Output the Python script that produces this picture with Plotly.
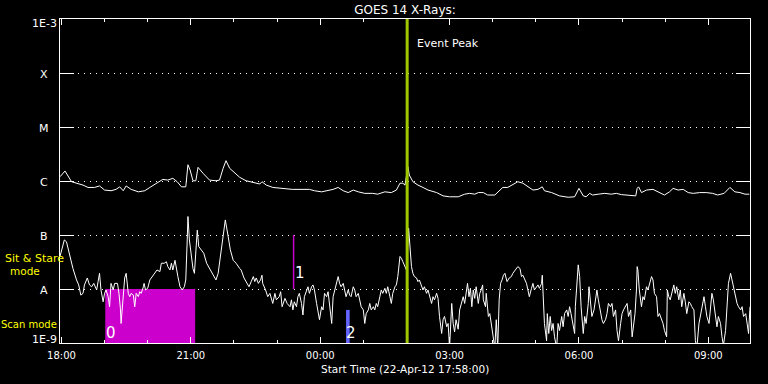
import numpy as np
import pandas as pd
import plotly.graph_objects as go

# ---------------- data ----------------
start_time = "2012-04-22 17:58:00"
end_time = "2012-04-23 09:58:00"

# GOES 14 long channel (1-8 A): minutes after start, flux in units of 1e-6 W/m^2
long_minutes = [0, 7, 16, 25, 32, 39, 48, 55, 62, 71, 78, 83, 88, 92, 99, 109, 118, 125, 134, 143,
                150, 157, 163, 169, 175, 178, 181, 185, 189, 192, 199, 208, 217, 222, 227, 231, 236, 243, 250, 259,
                269, 278, 281, 287, 296, 310, 323, 347, 354, 364, 373, 380, 387, 394, 401, 408, 415, 424, 435, 442,
                452, 461, 468, 473, 477, 480, 484, 486, 491, 498, 505, 512, 524, 533, 542, 554, 563, 570, 577, 582,
                589, 595, 605, 612, 616, 623, 633, 637, 644, 651, 658, 665, 671, 674, 684, 695, 707, 716, 722, 728,
                732, 737, 741, 749, 758, 767, 774, 781, 795, 801, 803, 805, 809, 816, 825, 834, 841, 848, 853, 860,
                867, 874, 881, 890, 899, 908, 915, 924, 932, 939, 946, 953, 959]
long_flux_1e6 = [1.20, 1.53, 0.97, 0.91, 0.84, 0.76, 0.76, 0.81, 0.68, 0.66, 0.70, 0.78, 0.66, 0.81, 0.70, 0.63, 0.66, 0.76, 0.91, 1.07,
                 1.04, 1.12, 0.97, 0.78, 0.78, 2.00, 1.60, 1.01, 1.01, 1.79, 1.39, 1.04, 1.01, 1.04, 1.72, 2.38, 1.72, 1.39, 1.17, 1.01,
                 0.93, 0.88, 0.97, 0.84, 0.76, 0.73, 0.70, 0.70, 0.66, 0.63, 0.66, 0.70, 0.76, 0.66, 0.61, 0.68, 0.63, 0.59, 0.59, 0.57,
                 0.63, 0.61, 0.68, 0.91, 0.91, 0.84, 1.84, 1.29, 0.97, 0.84, 0.76, 0.68, 0.61, 0.53, 0.51, 0.51, 0.57, 0.59, 0.57, 0.61,
                 0.61, 0.55, 0.55, 0.68, 0.76, 0.76, 0.91, 0.97, 0.91, 0.78, 0.68, 0.70, 0.78, 0.66, 0.61, 0.53, 0.50, 0.51, 0.73, 0.53,
                 0.51, 0.59, 0.55, 0.57, 0.59, 0.57, 0.59, 0.56, 0.55, 0.53, 0.73, 0.78, 0.61, 0.68, 0.70, 0.61, 0.55, 0.63, 0.73, 0.68,
                 0.70, 0.61, 0.59, 0.61, 0.61, 0.59, 0.55, 0.59, 0.76, 0.63, 0.61, 0.57, 0.57]

# GOES 14 short channel (0.5-4 A): minutes after start, flux in units of 1e-8 W/m^2
short_minutes = [0, 6, 9, 13, 18, 23, 26, 29, 32, 34, 38, 41, 44, 47, 51, 53, 55, 57, 60, 62,
                 64, 67, 69, 71, 74, 76, 80, 82, 84, 85, 88, 90, 92, 95, 97, 99, 102, 104, 106, 109,
                 111, 113, 116, 117, 119, 122, 125, 128, 132, 135, 139, 141, 145, 148, 150, 153, 155, 157, 160, 162,
                 164, 167, 170, 173, 175, 177, 178, 180, 183, 185, 187, 190, 191, 193, 197, 200, 204, 208, 213, 217,
                 220, 223, 227, 230, 234, 237, 241, 245, 250, 252, 256, 259, 263, 266, 269, 271, 273, 276, 279, 281,
                 282, 286, 289, 292, 294, 296, 299, 301, 305, 307, 309, 313, 316,
                 320, 322, 324, 326, 329, 331, 333, 336, 338, 340, 343, 345, 347, 350, 352, 354, 357, 359, 361, 364,
                 366, 368, 371, 373, 375, 378, 380, 382, 385, 387, 389, 391, 394, 396, 398, 401, 403, 405, 408, 410,
                 412, 415, 417, 419, 422, 424, 426, 429, 431, 433, 436, 438, 440, 442, 445, 447, 449, 452, 454, 456,
                 459, 461, 463, 466, 468, 470, 473, 475, 477, 480,
                 482, 485, 487, 489, 491, 493, 496, 498, 500, 503, 505, 507, 510, 512, 514, 517, 519, 521, 524, 526,
                 528, 531, 533, 535, 538, 540, 542, 545, 547, 549, 551, 554, 556, 558, 561, 563, 565, 567, 569, 571,
                 573, 575, 577, 579, 582, 584, 586, 588, 589, 592, 593, 596, 598, 600, 602, 605, 607, 609, 611, 613,
                 615, 617, 619, 622, 625, 628, 630, 633, 635, 637, 640,
                 642, 644, 647, 649, 651, 653, 656, 658, 660, 663, 665, 667, 670, 671, 672, 674, 677, 678, 680, 682,
                 684, 686, 688, 691, 693, 695, 698, 700, 702, 705, 707, 709, 711, 714, 716, 717, 719, 721, 723, 725,
                 728, 730, 732, 735, 736, 738, 740, 743, 745, 747, 749, 752, 754, 756, 759, 761, 763, 766, 768, 770,
                 773, 775, 777, 780, 782, 784, 787, 789, 791, 794, 796, 798, 800, 802,
                 803, 804, 806, 809, 811, 813, 816, 818, 820, 823, 825, 827, 830, 832, 834, 837, 839, 841, 844, 845,
                 847, 849, 852, 854, 856, 858, 861, 863, 865, 868, 870, 872, 875, 877, 879, 882, 884, 886, 889, 891,
                 893, 896, 898, 900, 903, 905, 907, 909, 912, 914, 916, 919, 921, 923, 926, 928, 930, 933, 935, 937,
                 940, 942, 944, 947, 949, 951, 954, 956, 958, 960]
short_flux_1e8 = [4.0, 8.1, 7.5, 4.3, 2.4, 1.47, 1.19, 0.77, 0.83, 1.19, 1.6, 1.19, 1.10, 1.27, 0.96, 1.37, 1.95, 0.96, 0.58, 0.83,
                  0.96, 0.72, 0.47, 1.27, 0.96, 1.27, 1.27, 0.83, 0.44, 0.23, 0.63, 1.6, 1.95, 0.83, 0.72, 0.83, 0.77, 0.47, 0.83, 0.72,
                  0.89, 0.83, 1.10, 1.27, 0.96, 1.03, 1.47, 1.7, 1.95, 2.25, 2.1, 3.0, 3.0, 3.2, 2.6, 2.25, 3.0, 2.25, 3.4, 2.25,
                  1.7, 1.10, 0.96, 1.10, 1.47, 8.1, 22.0, 8.1, 3.4, 2.4, 1.95, 6.1, 12.3, 6.1, 5.3, 4.6, 3.0, 2.4, 1.8, 1.47,
                  1.95, 4.0, 10.7, 19.0, 9.3, 5.3, 3.4, 3.0, 2.4, 2.25, 1.6, 1.37, 1.10, 1.37, 1.7, 1.37, 1.6, 1.27, 1.47, 1.8,
                  1.27, 0.96, 0.72, 0.83, 0.67, 0.54, 0.83, 0.63, 0.72, 0.89, 0.47, 0.67, 0.54,
                  0.47, 0.63, 0.41, 0.58, 0.47, 0.72, 0.83, 0.54, 0.33, 0.72, 0.96, 1.10, 0.83, 1.10, 1.19, 0.96, 0.54, 0.41, 0.27, 0.47,
                  0.41, 0.83, 0.72, 0.89, 0.47, 0.23, 0.72, 0.96, 1.27, 1.7, 1.27, 1.10, 1.27, 0.96, 0.72, 0.96, 0.77, 0.72, 1.10, 0.96,
                  0.72, 0.83, 0.58, 0.47, 0.41, 0.23, 0.35, 0.41, 0.54, 0.41, 0.47, 0.41, 0.54, 0.47, 0.72, 0.96, 0.83, 1.03, 0.83, 1.10,
                  0.72, 0.54, 0.83, 1.10, 1.19, 1.7, 4.0, 3.7, 3.2, 2.6,
                  2.25, 13.5, 5.3, 2.6, 1.95, 1.7, 1.6, 1.37, 1.47, 1.10, 0.96, 1.10, 0.83, 0.96, 0.72, 0.54, 0.72, 0.63, 0.83, 0.67,
                  0.31, 0.15, 0.27, 0.31, 0.20, 0.23, 0.08, 0.54, 0.23, 0.16, 0.27, 0.18, 0.41, 0.54, 0.72, 0.54, 0.96, 1.27, 0.72, 1.03,
                  0.47, 0.96, 0.67, 1.10, 0.54, 0.83, 0.96, 1.19, 0.63, 0.47, 0.83, 0.31, 0.35, 0.23, 0.17, 0.08, 0.27, 0.08, 0.63, 1.27,
                  1.47, 1.8, 1.95, 1.37, 1.6, 1.7, 1.95, 2.25, 2.4, 2.6, 2.4,
                  1.7, 1.8, 1.47, 1.27, 0.96, 0.72, 1.03, 1.27, 0.96, 1.10, 1.19, 1.03, 1.27, 1.8, 0.96, 0.23, 0.11, 0.35, 0.15, 0.31,
                  0.17, 0.23, 0.13, 0.08, 0.23, 0.17, 0.31, 0.20, 0.35, 0.41, 0.31, 0.47, 0.35, 0.20, 0.15, 0.47, 1.27, 2.8, 1.7, 0.47,
                  0.15, 0.31, 0.23, 0.54, 1.10, 0.54, 0.31, 0.41, 0.63, 0.96, 0.63, 0.35, 0.27, 0.23, 0.27, 0.35, 0.54, 0.47, 0.54, 0.31,
                  0.41, 0.17, 0.11, 0.23, 0.35, 0.41, 0.47, 0.54, 0.31, 0.41, 0.13, 0.23, 0.35, 0.96,
                  2.6, 2.25, 0.96, 0.47, 0.72, 0.63, 1.10, 0.96, 1.27, 1.7, 1.47, 0.83, 0.72, 0.31, 0.35, 0.27, 0.23, 0.17, 0.13, 0.96,
                  0.72, 0.63, 0.96, 1.19, 0.83, 1.10, 0.63, 0.96, 0.47, 0.83, 0.58, 0.35, 0.58, 0.54, 0.47, 0.41, 0.11, 0.08, 0.23, 0.31,
                  0.47, 0.72, 0.47, 0.31, 0.23, 0.41, 0.83, 0.63, 0.31, 0.20, 0.31, 0.23, 0.13, 0.09, 0.17, 0.63, 1.27, 1.95, 1.47, 0.96,
                  0.72, 0.54, 0.47, 0.41, 0.47, 0.31, 0.35, 0.20, 0.15, 0.47]

ytick_vals = [1e-9, 1e-8, 1e-7, 1e-6, 1e-5, 1e-4, 1e-3]
ytick_text = ["1E-9", "A", "B", "C", "M", "X", "1E-3"]

event_peak_time = "2012-04-23 02:01"
event_label = "Event Peak"
scan_start = "2012-04-22 19:01"
scan_end = "2012-04-22 21:06"
scan_bottom, scan_top = 1e-9, 1e-8
marker1_time = "2012-04-22 23:23"
marker1_low, marker1_high = 1e-8, 1e-7
marker2_start = "2012-04-23 00:36"
marker2_end = "2012-04-23 00:41"
marker2_top = 4.1e-9
mode_labels = ["Sit & Stare", "mode", "Scan mode"]
number_labels = ["0", "1", "2"]

title_text = "GOES 14 X-Rays:"
xtitle_text = "Start Time (22-Apr-12 17:58:00)"

# ---------------- build ----------------
t0 = pd.Timestamp(start_time)
long_t = t0 + pd.to_timedelta(long_minutes, unit="m")
short_t = t0 + pd.to_timedelta(short_minutes, unit="m")
long_flux = np.array(long_flux_1e6) * 1e-6
short_flux = np.array(short_flux_1e8) * 1e-8

W, H = 768, 384
L, R, T, B = 60, 750, 19, 343


def px_x(px):
    return (px - L) / (R - L)


def px_y(py):
    return (B - py) / (B - T)


FONT = "DejaVu Sans"
MAGENTA = "#cc00cc"
BLUE = "#6464ff"
GREEN = "#a0c800"
YELLOW = "#ffff00"

fig = go.Figure()

# scan-mode interval (filled box, drawn under the curves)
fig.add_trace(go.Scatter(x=[scan_start, scan_end, scan_end, scan_start, scan_start],
                         y=[scan_bottom, scan_bottom, scan_top, scan_top, scan_bottom],
                         mode="lines", fill="toself", fillcolor=MAGENTA, line=dict(width=0, color=MAGENTA),
                         hoverinfo="skip", showlegend=False))
# marker 2 (blue bar)
fig.add_trace(go.Scatter(x=[marker2_start, marker2_end, marker2_end, marker2_start, marker2_start],
                         y=[scan_bottom, scan_bottom, marker2_top, marker2_top, scan_bottom],
                         mode="lines", fill="toself", fillcolor=BLUE, line=dict(width=0, color=BLUE),
                         hoverinfo="skip", showlegend=False))
# marker 1 (thin magenta line)
fig.add_trace(go.Scatter(x=[marker1_time, marker1_time], y=[marker1_low, marker1_high], mode="lines",
                         line=dict(color=MAGENTA, width=1.5), hoverinfo="skip", showlegend=False))

fig.add_trace(go.Scatter(x=long_t, y=long_flux, mode="lines",
                         line=dict(color="white", width=1), hoverinfo="skip", showlegend=False))
fig.add_trace(go.Scatter(x=short_t, y=short_flux, mode="lines",
                         line=dict(color="white", width=1), hoverinfo="skip", showlegend=False))

shapes = [
    dict(type="line", xref="x", yref="paper", x0=event_peak_time, x1=event_peak_time,
         y0=0, y1=1, line=dict(color=GREEN, width=3), layer="above"),
]

annotations = []
# y labels (centered at x=44 px)
for v, txt in zip(ytick_vals, ytick_text):
    shift = -1
    if v == ytick_vals[-1]:
        shift = -4
    elif v == ytick_vals[0]:
        shift = 4
    annotations.append(dict(xref="paper", yref="y", x=px_x(44), y=np.log10(v), text=txt,
                            showarrow=False, xanchor="center", yanchor="middle", yshift=shift,
                            font=dict(family=FONT, size=11, color="white")))

annotations += [
    dict(xref="x", yref="paper", x=event_peak_time, y=px_y(43), text=event_label, showarrow=False,
         xanchor="left", yanchor="middle", xshift=8, font=dict(family=FONT, size=11, color="white")),
    dict(xref="paper", yref="paper", x=px_x(34), y=px_y(258.5), text=mode_labels[0], showarrow=False,
         xanchor="center", yanchor="middle", font=dict(family=FONT, size=11, color=YELLOW)),
    dict(xref="paper", yref="paper", x=px_x(24.5), y=px_y(270.5), text=mode_labels[1], showarrow=False,
         xanchor="center", yanchor="middle", font=dict(family=FONT, size=10.5, color=YELLOW)),
    dict(xref="paper", yref="paper", x=px_x(28.5), y=px_y(324), text=mode_labels[2], showarrow=False,
         xanchor="center", yanchor="middle", font=dict(family=FONT, size=10, color=YELLOW)),
    dict(xref="x", yref="paper", x=scan_start, y=px_y(332.5), text=number_labels[0], showarrow=False,
         xanchor="left", yanchor="middle", xshift=-1, font=dict(family=FONT, size=15, color="white")),
    dict(xref="x", yref="paper", x=marker1_time, y=px_y(272.5), text=number_labels[1], showarrow=False,
         xanchor="left", yanchor="middle", xshift=-1, font=dict(family=FONT, size=15, color="white")),
    dict(xref="x", yref="paper", x=marker2_start, y=px_y(333), text=number_labels[2], showarrow=False,
         xanchor="left", yanchor="middle", xshift=-2, font=dict(family=FONT, size=15, color="white")),
    dict(xref="paper", yref="paper", x=px_x(405), y=px_y(369), text=xtitle_text, showarrow=False,
         xanchor="center", yanchor="middle", font=dict(family=FONT, size=10.5, color="white")),
]

fig.update_layout(
    width=W, height=H,
    margin=dict(l=L, r=W - R, t=T, b=H - B, pad=0),
    paper_bgcolor="black", plot_bgcolor="black",
    title=dict(text=title_text, x=0.5, xref="paper", xanchor="center",
               y=1 - 10 / H, yref="container", yanchor="middle",
               font=dict(family=FONT, size=12, color="white")),
    shapes=shapes, annotations=annotations, showlegend=False,
)

fig.update_xaxes(
    type="date", range=[start_time, end_time],
    tick0="2012-04-22 18:00:00", dtick=3 * 3600 * 1000, tickformat="%H:%M",
    ticks="inside", ticklen=6, tickwidth=1, tickcolor="white",
    minor=dict(dtick=3600 * 1000, tick0="2012-04-22 18:00:00", ticks="inside", ticklen=3,
               tickwidth=1, tickcolor="white", showgrid=False),
    showgrid=False, zeroline=False, showline=True, linecolor="white", linewidth=1,
    mirror="allticks", ticklabelstandoff=3,
    tickfont=dict(family=FONT, size=10, color="white"),
)
fig.update_yaxes(
    type="log", range=[-9, -3], tickmode="array", tickvals=ytick_vals, showticklabels=False,
    ticks="inside", ticklen=14, tickwidth=1, tickcolor="white",
    showgrid=True, gridcolor="white", gridwidth=1, griddash="1px,5px",
    zeroline=False, showline=True, linecolor="white", linewidth=1, mirror="allticks",
)

fig.write_html("out.html")
